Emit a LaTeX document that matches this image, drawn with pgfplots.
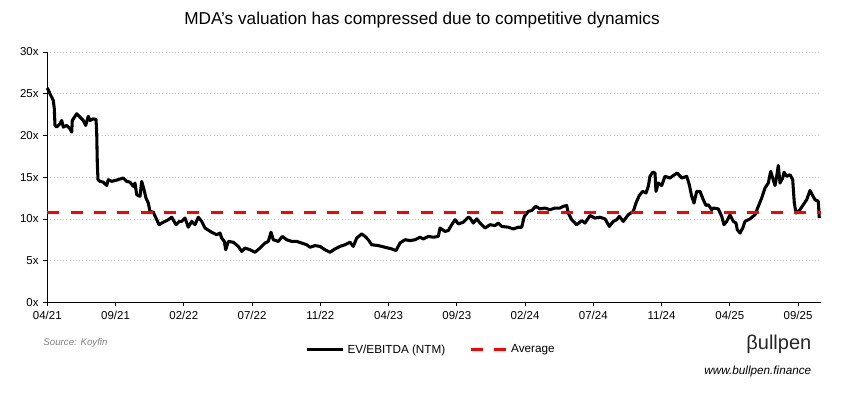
\documentclass[border=0pt]{standalone}
\usepackage{pgfplots}
\pgfplotsset{compat=1.18}
\usepackage{fontspec}
\setmainfont{Liberation Sans}
\begin{document}
\begin{tikzpicture}
\path[use as bounding box] (0,0) rectangle (633pt,295.5pt);
\node at (316.5pt,280.5pt) {\fontsize{12.9}{15}\selectfont MDA's valuation has compressed due to competitive dynamics};
\begin{axis}[
  at={(35.475pt,68.775pt)}, anchor=south west,
  scale only axis, width=579.9pt, height=187.7pt,
  xmin=47.3, xmax=820.5, ymin=0, ymax=30,
  axis lines*=left, axis line style={-,black,line width=0.8pt},
  xtick={47.3,115.55,183.8,252.05,320.3,388.55,456.8,525.05,593.3,661.55,729.8,798.05},
  xticklabels={04/21,09/21,02/22,07/22,11/22,04/23,09/23,02/24,07/24,11/24,04/25,09/25},
  ytick={0,5,10,15,20,25,30},
  yticklabel={\pgfmathprintnumber{\tick}x},
  /pgf/number format/assume math mode=true,
  tick align=outside, major tick length=3pt,
  tick style={black,line width=0.5pt},
  ticklabel style={font=\fontsize{8.6}{10}\selectfont},
  ymajorgrids, major grid style={gray!45,dotted,line width=0.5pt},
  clip=false,
  legend style={at={(0.497,-0.19)},anchor=center,draw=none,fill=none,
    font=\fontsize{8.8}{10}\selectfont, legend columns=2,
    /tikz/every even column/.append style={column sep=16pt}},
  legend image code/.code={\draw[#1] (0pt,0pt) -- (27pt,0pt);},
]
\addplot[black,line width=2.3pt,line join=round] table {
47.3 25.7
50 25.0
53.3 24.2
54.3 23.2
55 21.2
56.7 21.0
60 21.4
61.7 21.8
63.3 21.0
66.7 21.2
70 20.8
71.7 20.4
72.3 21.8
76.7 22.6
80 22.2
83.3 21.8
85.7 21.2
88.3 22.3
90 21.8
93.3 22.0
96 21.9
96.7 20.4
97.3 16.7
98 14.7
100 14.5
103.3 14.4
106.7 14.0
108.3 14.7
111.7 14.5
116.7 14.65
123.3 14.9
126.7 14.5
130 14.4
133.3 13.9
135 14.3
136.7 12.9
140 12.7
141.7 14.5
144 13.5
146 12.5
148.3 11.9
150 10.9
153.3 10.8
156 10.1
159 9.3
163.3 9.6
168.3 9.9
171.7 10.2
176 9.3
179.3 9.7
181.7 9.7
185 10.1
188.3 9.0
191.7 9.7
195 9.3
198.3 10.2
201.7 9.7
205 8.9
211.7 8.4
216.7 8.1
220 8.3
221.7 7.7
224.3 7.3
225.7 6.3
228.3 7.3
233.3 7.2
238.3 6.7
241.7 6.1
245 6.5
250 6.3
255 6.0
260 6.5
265 7.1
268.3 7.3
271 8.4
273.3 7.5
278.3 7.3
282.3 7.9
286.7 7.5
291.7 7.3
296.7 7.3
301.7 7.1
306.7 6.9
310 6.6
315 6.8
320 6.7
325 6.3
330 6.0
335 6.4
340 6.7
345 6.9
350 7.2
353.3 6.7
356.7 7.7
361.7 8.2
365 7.9
368.3 7.5
371.7 6.9
378.3 6.8
385 6.6
391.7 6.4
396 6.2
400 7.1
405 7.5
410 7.4
415 7.5
420 7.8
423.3 7.6
428.3 7.9
433.3 7.8
438.3 7.9
440 8.9
445 8.5
448.3 8.6
451.7 9.3
455 9.9
458.3 9.4
463.3 9.6
468.3 10.2
470 10.1
473.3 9.5
476.7 10.0
480 9.5
485 8.9
490 9.3
495 9.2
498.3 9.5
501.7 9.1
508.3 9.0
513.3 8.8
518.3 9.0
521.7 9.0
524.3 10.3
528.3 10.9
531.7 11.0
535.7 11.5
540 11.2
545 11.3
550 11.1
555 11.3
560 11.3
563.3 11.5
566.7 11.6
568.3 10.7
571.7 9.9
576.7 9.3
581.7 9.8
585 9.5
590 10.4
595 10.1
600 10.2
605 10.0
609.3 9.1
613.3 9.7
616.7 9.9
619.3 10.3
623.3 9.7
628.3 10.5
633.3 10.9
636 11.9
639.3 12.8
642.7 13.3
646 13.1
648.3 13.9
650 15.1
652.7 15.6
655 15.5
656 13.3
658.3 14.3
661.7 14.0
665 15.1
670 14.9
673.3 15.2
677.3 15.5
681.7 14.9
686.7 15.1
689.3 14.1
691.7 12.7
694 11.9
696.7 13.3
700 13.3
703.3 12.3
706 11.6
708.3 11.7
711.7 11.1
713.3 11.3
718.3 11.2
721.7 10.3
724 9.3
726.7 9.7
730 10.5
733.3 9.7
736 9.5
737.3 8.7
740 8.3
742.7 8.9
745 9.7
750 10.0
755 10.5
758.3 11.5
761.7 12.5
765 13.7
768.3 14.3
770.7 15.7
772.7 14.9
775 14.0
776.7 15.1
778.3 16.4
780 14.3
782.7 14.9
784 15.6
786.7 15.1
790 15.3
792.7 14.7
794.3 11.9
796 10.7
800 11.1
803.3 11.7
806.7 12.3
810 13.4
812.7 12.8
815 12.3
818.3 12.1
819.3 10.1
};
\addlegendentry{EV/EBITDA (NTM)}
\addplot[red,line width=2.4pt,dash pattern=on 9pt off 8.5pt] table {
47.3 10.72
820.5 10.72
};
\addlegendentry{Average}
\end{axis}
\node[anchor=west,text=gray] at (29pt,38.25pt) {\fontsize{7.3}{9}\selectfont\itshape Source: Koyfin};
\node[anchor=east,text=black!85] at (612pt,37pt) {\fontsize{15}{17}\selectfont βullpen};
\node[anchor=east] at (612pt,17.25pt) {\fontsize{8.8}{10}\selectfont\itshape www.bullpen.finance};
\end{tikzpicture}
\end{document}
